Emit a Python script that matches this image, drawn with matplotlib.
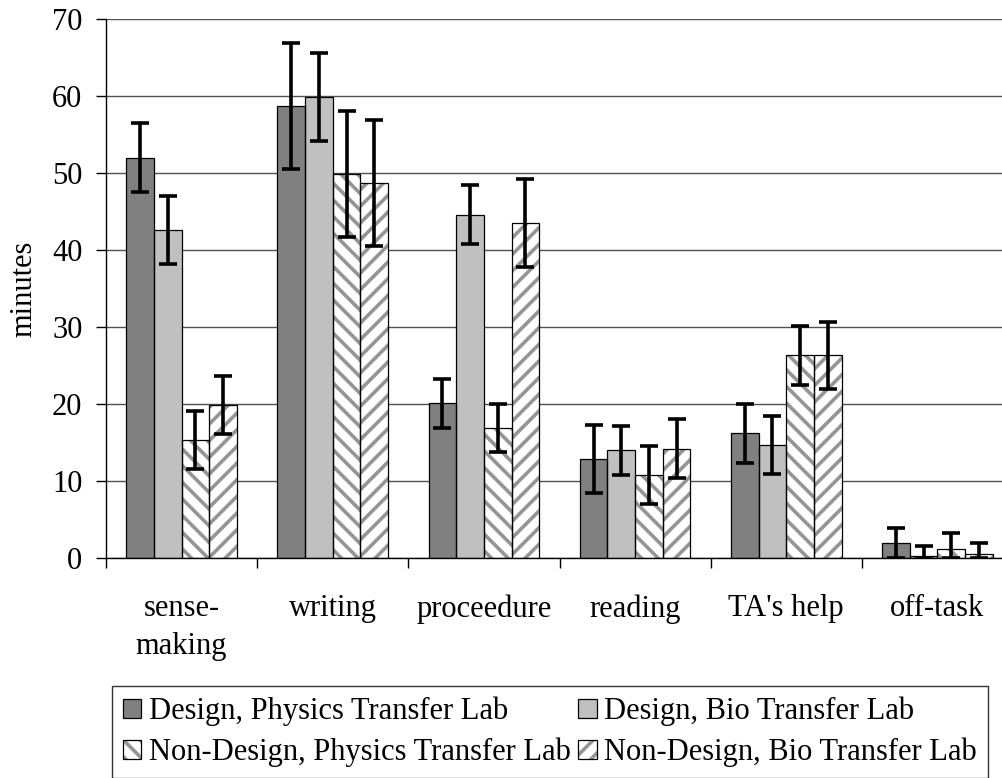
import numpy as np
import matplotlib
matplotlib.use("Agg")
import matplotlib.pyplot as plt
from matplotlib.patches import Patch
from matplotlib.legend_handler import HandlerTuple

categories = ["sense-\nmaking", "writing", "proceedure", "reading", "TA's help", "off-task"]
series_names = ["Design, Physics Transfer Lab", "Design, Bio Transfer Lab",
                "Non-Design, Physics Transfer Lab", "Non-Design, Bio Transfer Lab"]

design_phys = [52.0, 58.7, 20.1, 12.9, 16.2, 1.9]
design_bio = [42.6, 59.9, 44.6, 14.0, 14.7, 0.2]
nondesign_phys = [15.3, 49.9, 16.9, 10.8, 26.3, 1.2]
nondesign_bio = [19.9, 48.7, 43.5, 14.2, 26.3, 0.5]

design_phys_err = [4.5, 8.2, 3.2, 4.4, 3.8, 2.0]
design_bio_err = [4.4, 5.7, 3.8, 3.2, 3.8, 1.4]
nondesign_phys_err = [3.8, 8.2, 3.1, 3.8, 3.8, 2.1]
nondesign_bio_err = [3.8, 8.2, 5.7, 3.8, 4.4, 1.5]

plt.rcParams['font.family'] = ['Liberation Serif', 'DejaVu Serif']
plt.rcParams['hatch.color'] = '#959595'
plt.rcParams['hatch.linewidth'] = 2.6

FS = 22

fig = plt.figure(figsize=(10.02, 7.78), dpi=100)
ax = fig.add_axes([106 / 1002, 1 - 558 / 778, 907 / 1002, 539 / 778])

values = [design_phys, design_bio, nondesign_phys, nondesign_bio]
errors = [design_phys_err, design_bio_err, nondesign_phys_err, nondesign_bio_err]
faces = ['#808080', '#c0c0c0', 'white', 'white']
hatches = [None, None, '\\\\', '//']

x = np.arange(len(categories))
w = 0.183
handles = []
for i in range(4):
    pos = x + (i - 1.5) * w
    vals = np.array(values[i])
    err = np.array(errors[i])
    lower = np.minimum(err, vals)
    # fill + hatch (hatch colour comes from rcParams when edgecolor is unset)
    ax.bar(pos, vals, w, color=faces[i], hatch=hatches[i], zorder=2)
    ax.bar(pos, vals, w, fill=False, edgecolor='black', linewidth=0.9, zorder=3)
    ax.errorbar(pos, vals, yerr=[lower, err], fmt='none', ecolor='black',
                elinewidth=2.6, capsize=6.5, capthick=2.6, zorder=4)
    handles.append((Patch(facecolor=faces[i], hatch=hatches[i]),
                    Patch(fill=False, edgecolor='black', linewidth=0.9)))

ax.set_xlim(-0.5, len(categories) - 0.5)
ax.set_ylim(0, 70)
ax.set_yticks(range(0, 71, 10))
ax.yaxis.grid(True, color='#505050', linewidth=1.0)
ax.set_axisbelow(True)
for s in ['top', 'right']:
    ax.spines[s].set_visible(False)
ax.spines['left'].set_linewidth(1.0)
ax.spines['bottom'].set_linewidth(1.0)

ax.set_xticks(np.arange(len(categories) + 1) - 0.5)
ax.set_xticklabels([])
ax.set_xticks(x, minor=True)
ax.set_xticklabels(categories, minor=True, fontsize=FS, linespacing=1.4)
ax.tick_params(axis='x', which='major', length=7, width=1, direction='out')
ax.tick_params(axis='x', which='minor', length=0, pad=26)
ax.tick_params(axis='y', length=7, width=1, direction='out', labelsize=FS, pad=10)
ax.set_ylabel("minutes", fontsize=FS, labelpad=10)

# matplotlib fills legend columns first, so reorder to get Excel's row order
order = [0, 2, 1, 3]
leg = fig.legend([handles[k] for k in order], [series_names[k] for k in order],
                 loc='upper left',
                 bbox_to_anchor=(112 / 1002, 1 - 686 / 778), ncol=2,
                 fontsize=FS, frameon=True, fancybox=False, borderaxespad=0,
                 handlelength=0.6, handleheight=0.6, handletextpad=0.25,
                 columnspacing=0.25, labelspacing=0.38, borderpad=0.35,
                 handler_map={tuple: HandlerTuple(ndivide=1)})
leg.get_frame().set_edgecolor('black')
leg.get_frame().set_linewidth(1.0)

fig.savefig("out.png", dpi=100)
